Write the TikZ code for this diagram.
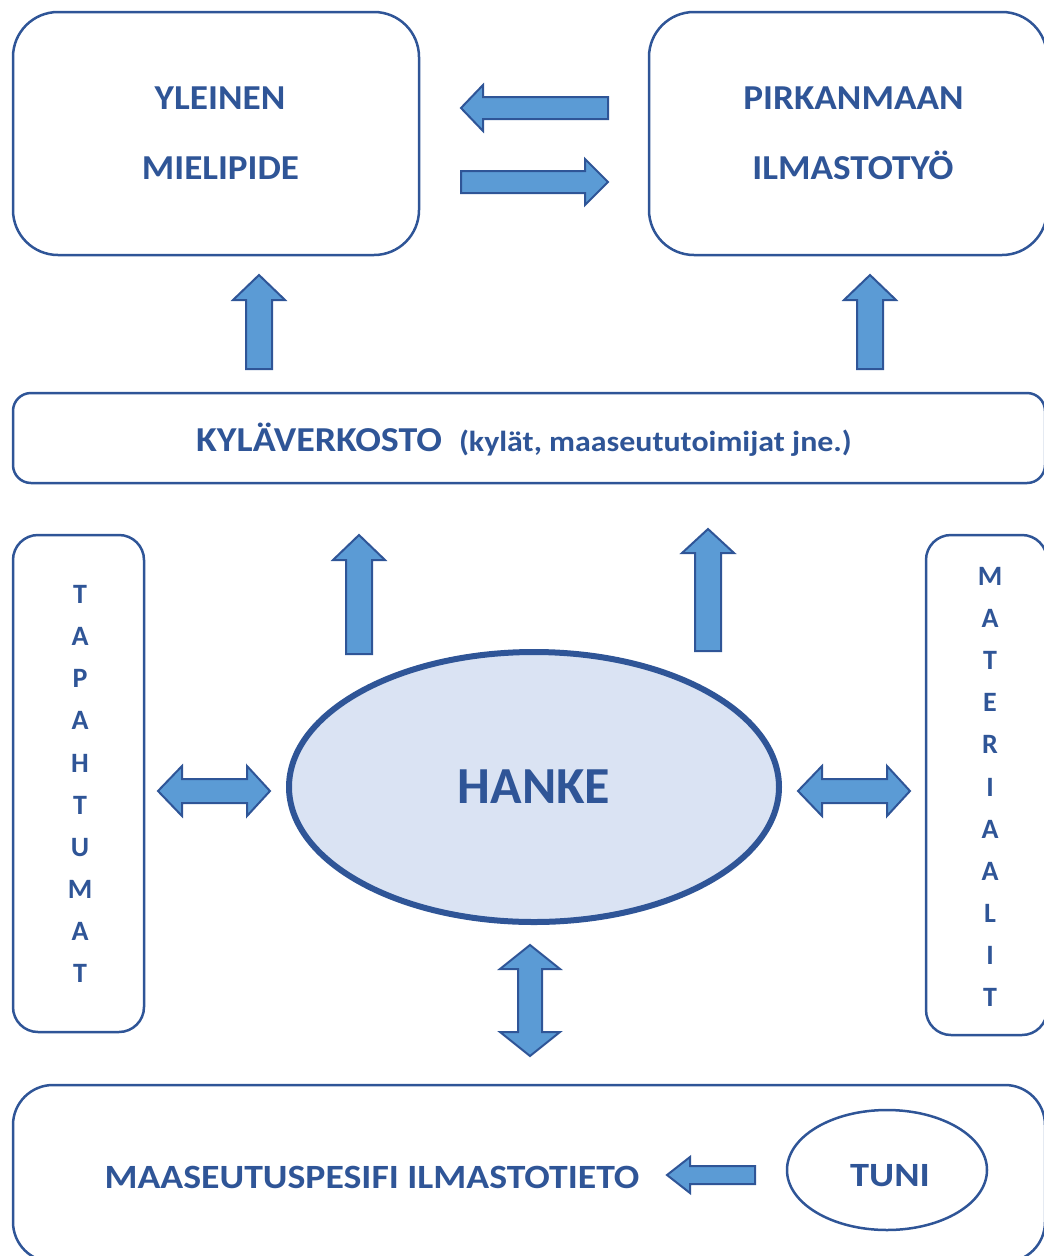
\documentclass[tikz,border=0pt]{standalone}
\usepackage{fontspec}
\setmainfont{Carlito}
\usetikzlibrary{shapes.geometric}
\definecolor{dk}{HTML}{2F5597}
\definecolor{af}{HTML}{5B9BD5}
\definecolor{ef}{HTML}{DAE3F3}
\newcommand{\sx}[2]{\scalebox{#1}[1]{#2}}
\newcommand{\harr}[6]{% tail, headbase, tip, yc, bodyhalf, headhalf
  \draw[barrow] (#1,{#4-#5}) -- (#2,{#4-#5}) -- (#2,{#4-#6}) -- (#3,#4) -- (#2,{#4+#6}) -- (#2,{#4+#5}) -- (#1,{#4+#5}) -- cycle;}
\newcommand{\varr}[6]{% tail, headbase, tip, xc, bodyhalf, headhalf
  \draw[barrow] ({#4-#5},#1) -- ({#4-#5},#2) -- ({#4-#6},#2) -- (#4,#3) -- ({#4+#6},#2) -- ({#4+#5},#2) -- ({#4+#5},#1) -- cycle;}
\newcommand{\hdarr}[7]{% tipL, baseL, baseR, tipR, yc, bodyhalf, headhalf
  \draw[barrow] (#1,#5) -- (#2,{#5-#7}) -- (#2,{#5-#6}) -- (#3,{#5-#6}) -- (#3,{#5-#7}) -- (#4,#5) -- (#3,{#5+#7}) -- (#3,{#5+#6}) -- (#2,{#5+#6}) -- (#2,{#5+#7}) -- cycle;}
\newcommand{\vdarr}[7]{% tipT, baseT, baseB, tipB, xc, bodyhalf, headhalf
  \draw[barrow] (#5,#1) -- ({#5-#7},#2) -- ({#5-#6},#2) -- ({#5-#6},#3) -- ({#5-#7},#3) -- (#5,#4) -- ({#5+#7},#3) -- ({#5+#6},#3) -- ({#5+#6},#2) -- ({#5+#7},#2) -- cycle;}
\begin{document}
\begin{tikzpicture}[x=1pt,y=-1pt,
  box/.style={draw=dk,line width=2.5pt,rectangle,inner sep=0pt},
  lbl/.style={text=dk,inner sep=0pt,font=\bfseries\fontsize{35}{40}\selectfont},
  vlbl/.style={text=dk,inner sep=0pt,align=center,font=\bfseries\fontsize{28}{42.1}\selectfont},
  barrow/.style={draw=dk,fill=af,line width=2pt,line join=miter}]
\useasboundingbox (0,0) rectangle (1044,1256);
% boxes
\node[box,rounded corners=45pt,minimum width=406pt,minimum height=243pt] (yleinen) at (216,133.5) {};
\node[box,rounded corners=45pt,minimum width=398pt,minimum height=243pt] (pirkan) at (848,133.5) {};
\node[box,rounded corners=18pt,minimum width=1032pt,minimum height=90pt] (kyla) at (529,438) {};
\node[box,rounded corners=25pt,minimum width=131pt,minimum height=497pt] (tapah) at (78.5,783.5) {};
\node[box,rounded corners=25pt,minimum width=121pt,minimum height=500pt] (mater) at (986.5,785) {};
\node[box,rounded corners=40pt,minimum width=1032pt,minimum height=177pt] (maas) at (529,1173.5) {};
\node[ellipse,draw=dk,fill=ef,line width=6pt,minimum width=490pt,minimum height=270pt,inner sep=0pt] (hanke) at (534,787) {};
\node[ellipse,draw=dk,line width=2.5pt,minimum width=200pt,minimum height=120pt,inner sep=0pt] (tuni) at (887,1170) {};
% texts
\node[lbl,anchor=base] (t1) at (220,109) {\sx{1.065}{YLEINEN}};
\node[lbl,anchor=base] (t2) at (220.5,179) {\sx{1.06}{MIELIPIDE}};
\node[lbl,anchor=base] (t3) at (853.5,109) {\sx{1.063}{PIRKANMAAN}};
\node[lbl,anchor=base] (t4) at (853,179) {\sx{1.063}{ILMASTOTYÖ}};
\node[lbl,anchor=base west] (t5) at (196,451) {\sx{1.085}{KYLÄVERKOSTO}\hspace{17pt}{\fontsize{29}{32}\selectfont\sx{1.1}{(kylät, maaseututoimijat jne.)}}};
\node[lbl,font=\bfseries\fontsize{52}{56}\selectfont] (t6) at (534,787) {HANKE};
\node[vlbl] (t7) at (80,784) {T\\A\\P\\A\\H\\T\\U\\M\\A\\T};
\node[vlbl] (t8) at (990,787) {M\\A\\T\\E\\R\\I\\A\\A\\L\\I\\T};
\node[lbl,anchor=base,font=\bfseries\fontsize{34}{36}\selectfont] (t9) at (372,1188) {\sx{1.11}{MAASEUTUSPESIFI ILMASTOTIETO}};
\node[lbl,anchor=base,font=\bfseries\fontsize{34}{36}\selectfont] (t10) at (890,1186) {\sx{1.13}{TUNI}};
% block arrows
\harr{608}{483}{461}{108}{11}{23}
\harr{461}{585}{608}{182}{11}{23}
\varr{369}{300}{275}{259}{13}{26}
\varr{369}{300}{275}{870}{13}{26}
\varr{654}{560}{535}{359}{13}{26}
\varr{651}{553}{529}{708}{13}{26}
\hdarr{158}{182}{247}{270}{791}{12}{25}
\hdarr{798}{822}{887}{910}{791}{12}{25}
\vdarr{945}{969}{1032}{1056}{530}{12}{30}
\harr{755}{690}{667}{1175}{9}{18}
\end{tikzpicture}
\end{document}
